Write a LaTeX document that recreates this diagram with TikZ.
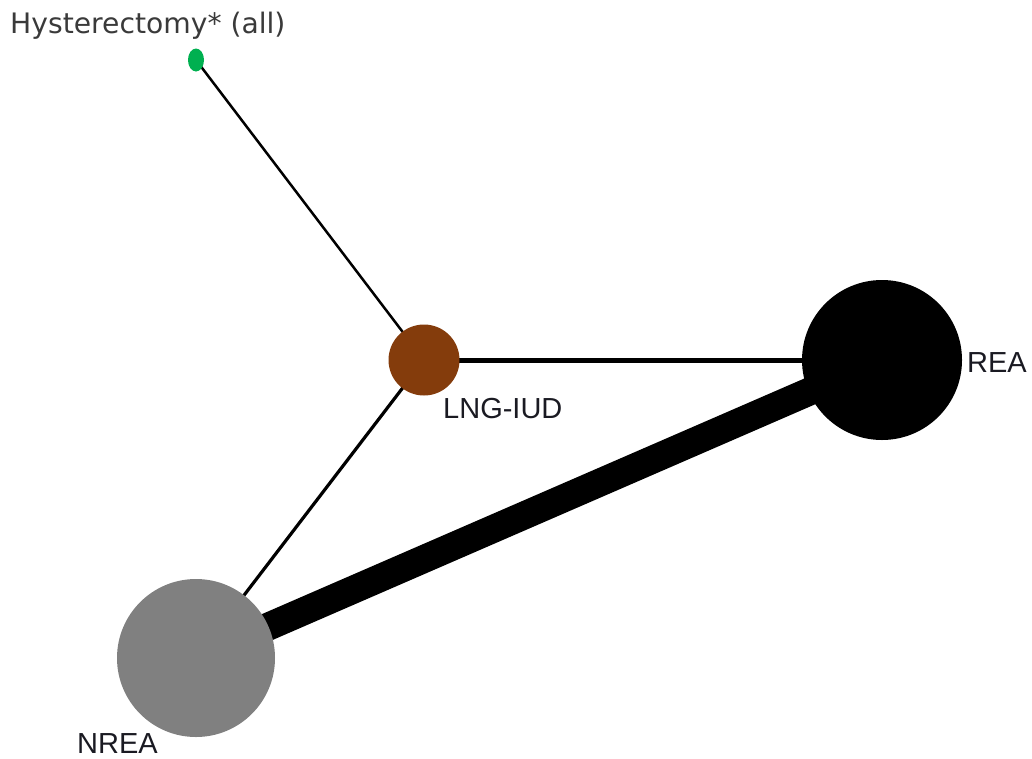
\documentclass[tikz,border=0pt]{standalone}
\usepackage{fontspec}
\setmainfont{Liberation Sans}
\newfontfamily\widefont{DejaVu Sans}
\usetikzlibrary{backgrounds,shapes.geometric}
\definecolor{hystgreen}{HTML}{00B050}
\definecolor{lngbrown}{HTML}{843C0C}
\definecolor{nreagray}{HTML}{808080}
\definecolor{labelblack}{HTML}{1A1A22}
\definecolor{labelgray}{HTML}{3A3A3A}
\tikzset{
trt node/.style={circle,inner sep=0pt,draw=none},
trt label/.style={anchor=base west,inner sep=0pt,text=labelblack,font=\fontsize{29}{34}\selectfont},
link/.style={line cap=butt,black}}

\begin{document}
\begin{tikzpicture}[x=1pt,y=-1pt]
\useasboundingbox (0,0) rectangle (1032,758);

\node (hyst) [ellipse,inner sep=0pt,fill=hystgreen,minimum width=16pt,minimum height=23pt] at (196,60) {};
\node (lng) [trt node,fill=lngbrown,minimum size=71pt] at (424,360) {};
\node (rea) [trt node,fill=black,minimum size=160pt] at (882,360) {};
\node (nrea) [trt node,fill=nreagray,minimum size=158pt] at (196,658) {};

\node (hystlab) [trt label,text=labelgray,font=\widefont\fontsize{28.2}{33}\selectfont] at (10,33) {Hysterectomy* (all)};
\node (lnglab) [trt label] at (443,418) {LNG-IUD};
\node (realab) [trt label] at (967,372) {REA};
\node (nrealab) [trt label] at (77,753) {NREA};

\begin{scope}[on background layer]
\draw[link,line width=2.5pt] (hyst.center) -- (lng.center);
\draw[link,line width=5pt] (lng.center) -- (rea.center);
\draw[link,line width=3.2pt] (lng.center) -- (nrea.center);
\draw[link,line width=28pt] (nrea.center) -- (rea.center);
\end{scope}

\end{tikzpicture}
\end{document}
